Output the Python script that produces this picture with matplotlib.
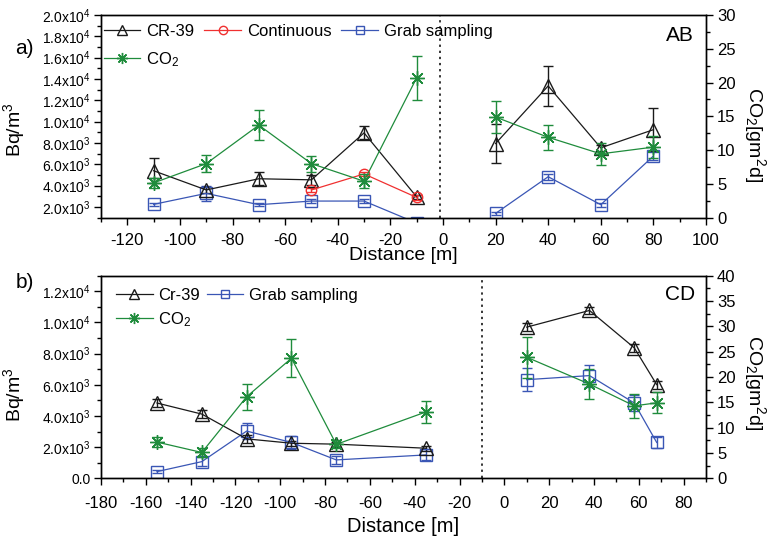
import matplotlib
matplotlib.use('Agg')
import matplotlib.pyplot as plt
import numpy as np
from matplotlib.ticker import MultipleLocator, FuncFormatter, FixedLocator
from matplotlib.lines import Line2D
from matplotlib.legend_handler import HandlerTuple

plt.rcParams['font.family'] = ['Liberation Sans', 'DejaVu Sans']
plt.rcParams['mathtext.fontset'] = 'custom'
plt.rcParams['mathtext.rm'] = 'Liberation Sans'
plt.rcParams['mathtext.it'] = 'Liberation Sans:italic'
plt.rcParams['mathtext.default'] = 'regular'
plt.rcParams['axes.unicode_minus'] = False

# ---------------- Panel a (AB) ----------------
a_x = [-110, -90, -70, -50, -30, -10, 20, 40, 60, 80]
a_cr39 = [5400, 3600, 4650, 4550, 8950, 2950, 7950, 13350, 7550, 9250]
a_cr39_err = [1150, 250, 600, 450, 600, 200, 1800, 1850, 300, 2000]
a_cont_x = [-50, -30, -10]
a_cont = [3600, 5100, 2900]
a_cont_err = [200, 200, 250]
a_grab = [2250, 3280, 2220, 2560, 2560, 500, 1400, 4840, 2220, 6780]
a_grab_err = [150, 700, 150, 150, 150, 0, 150, 300, 200, 350]
a_co2 = [5.15, 8.0, 13.7, 8.0, 5.4, 20.7, 14.9, 11.9, 9.45, 10.45]
a_co2_err = [0.7, 1.25, 2.2, 1.2, 1.0, 3.3, 2.4, 1.85, 1.6, 1.6]
a_gap = -1

# ---------------- Panel b (CD) ----------------
b_x = [-155, -135, -115, -95, -75, -35, 10, 38, 58, 68]
b_cr39 = [4830, 4120, 2530, 2250, 2190, 1930, 9700, 10770, 8370, 6010]
b_cr39_err = [250, 250, 250, 150, 150, 150, 250, 250, 250, 250]
b_grab = [430, 1070, 3030, 2300, 1180, 1500, 6330, 6590, 4830, 2300]
b_grab_err = [100, 300, 500, 400, 250, 350, 720, 700, 500, 350]
b_co2 = [7.15, 5.1, 16.1, 23.7, 6.7, 13.1, 23.9, 18.6, 14.3, 14.9]
b_co2_err = [1.0, 0.8, 2.6, 3.75, 0.8, 2.15, 4.0, 2.95, 2.3, 2.1]
b_gap = -10

BLACK = '#1a1a1a'
RED = '#f03030'
BLUE = '#3a56b5'
GREEN = '#1f8c3c'
AST = (8, 2, 0)

W, H = 767, 545
fig = plt.figure(figsize=(W / 100, H / 100), dpi=100)


def sci_fmt(v, pos):
    if abs(v) < 1e-9:
        return '0.0'
    e = int(np.floor(np.log10(v) + 1e-9))
    m = v / 10 ** e
    return '%.1fx10$^{%d}$' % (m, e)


def series(ax, x, y, e, gap, color, marker, ms, mfc='none', dot=False):
    x = np.asarray(x, float); y = np.asarray(y, float); e = np.asarray(e, float)
    for m in (x < gap, x > gap):
        if not m.any():
            continue
        ax.errorbar(x[m], y[m], yerr=e[m], color=color, marker=marker, ms=ms,
                    mfc=mfc, mec=color, mew=1.0, lw=0.9, elinewidth=1.0,
                    capsize=3.5, capthick=1.0)
        if dot:
            ax.plot(x[m], y[m], ls='none', marker='o', ms=3.0, color=color)


def style_axes(ax, ax2, xlim, ylim, ymaj, ymin_loc, y2lim, xpad):
    ax.set_xlim(*xlim)
    ax.set_ylim(*ylim)
    ax2.set_ylim(*y2lim)
    ax.xaxis.set_major_locator(MultipleLocator(20))
    ax.xaxis.set_minor_locator(MultipleLocator(10))
    ax.yaxis.set_major_locator(FixedLocator(ymaj))
    ax.yaxis.set_minor_locator(MultipleLocator(ymin_loc))
    ax.yaxis.set_major_formatter(FuncFormatter(sci_fmt))
    ax2.yaxis.set_major_locator(MultipleLocator(5))
    ax2.yaxis.set_minor_locator(MultipleLocator(2.5))
    for a in (ax, ax2):
        a.tick_params(which='major', direction='out', length=5, width=1)
        a.tick_params(which='minor', direction='out', length=3, width=1)
        for s in a.spines.values():
            s.set_linewidth(1.0)
    ax.tick_params(axis='y', labelsize=10, pad=2.5)
    ax.tick_params(axis='x', labelsize=12, pad=xpad)
    ax2.tick_params(axis='y', labelsize=12, pad=3)


def fx(px):
    return px / W


def fy(py):
    return 1 - py / H


# ===== Panel a =====
ax = fig.add_axes([fx(101), fy(217.7), 605 / W, 202.7 / H])
ax2 = ax.twinx()
style_axes(ax, ax2, (-130, 100), (1000, 20000),
           list(range(2000, 20001, 2000)), 1000, (0, 30), 6.0)
ax.axvline(a_gap, color='black', ls=(0, (1.5, 2.5)), lw=1.1)
series(ax, a_x, a_grab, a_grab_err, a_gap, BLUE, 's', 8.5)
series(ax, a_x, a_cr39, a_cr39_err, a_gap, BLACK, '^', 9.5)
series(ax, a_cont_x, a_cont, a_cont_err, a_gap, RED, 'o', 7.5)
series(ax2, a_x, a_co2, a_co2_err, a_gap, GREEN, AST, 10.5, dot=True)

ax.set_xlabel('Distance [m]', fontsize=14)
ax.set_ylabel('Bq/m$^3$', fontsize=14)
ax2.set_ylabel('CO$_2$[gm$^2$d]', fontsize=14, rotation=270, va='center')
fig.text(fx(15), fy(48), 'a)', fontsize=15, va='center')
fig.text(fx(694), fy(35), 'AB', fontsize=15, ha='right', va='center')

h_cr = Line2D([], [], color=BLACK, marker='^', ms=7, mfc='none', lw=0.9)
h_co = Line2D([], [], color=RED, marker='o', ms=6, mfc='none', lw=0.9)
h_gr = Line2D([], [], color=BLUE, marker='s', ms=6, mfc='none', lw=0.9)
h_c2 = (Line2D([], [], color=GREEN, marker=AST, ms=8, lw=0.9),
        Line2D([], [], color=GREEN, marker='o', ms=2.5, ls='none'))
leg = ax2.legend([h_cr, h_c2, h_co, h_gr],
                 ['CR-39', 'CO$_2$', 'Continuous', 'Grab sampling'],
                 handler_map={tuple: HandlerTuple(ndivide=1, pad=0)},
                 ncol=3, loc='upper left', bbox_to_anchor=(-0.012, 1.005),
                 frameon=False, fontsize=12, handlelength=2.2,
                 handletextpad=0.35, columnspacing=0.6, labelspacing=0.65,
                 borderaxespad=0.2)

# ===== Panel b =====
bx = fig.add_axes([fx(101), fy(478.3), 605 / W, 202.6 / H])
bx2 = bx.twinx()
style_axes(bx, bx2, (-180, 90), (0, 13000),
           list(range(0, 12001, 2000)), 1000, (0, 40), 7.5)
bx.axvline(b_gap, color='black', ls=(0, (1.5, 2.5)), lw=1.1)
series(bx, b_x, b_grab, b_grab_err, b_gap, BLUE, 's', 8.5)
series(bx, b_x, b_cr39, b_cr39_err, b_gap, BLACK, '^', 9.5)
series(bx2, b_x, b_co2, b_co2_err, b_gap, GREEN, AST, 10.5, dot=True)

bx.set_xlabel('Distance [m]', fontsize=14.5)
bx.set_ylabel('Bq/m$^3$', fontsize=14)
bx2.set_ylabel('CO$_2$[gm$^2$d]', fontsize=14, rotation=270, va='center')
fig.text(fx(16), fy(283), 'b)', fontsize=15, va='center')
fig.text(fx(695), fy(295), 'CD', fontsize=15, ha='right', va='center')

legb = bx2.legend([h_cr, h_c2, h_gr], ['Cr-39', 'CO$_2$', 'Grab sampling'],
                  handler_map={tuple: HandlerTuple(ndivide=1, pad=0)},
                  ncol=2, loc='upper left', bbox_to_anchor=(0.008, 0.99),
                  frameon=False, fontsize=12, handlelength=2.2,
                  handletextpad=0.35, columnspacing=0.4, labelspacing=0.45,
                  borderaxespad=0.2)

# explicit label positions (pixel positions -> axes coords)
for a, a2, ycen_l, ycen_r, xl_y, top, bot in (
        (ax, ax2, 130, 135, 255, 15, 217.7),
        (bx, bx2, 395, 383, 527, 275.7, 478.3)):
    hgt = bot - top
    a.yaxis.set_label_coords((27 - 101) / 605, (bot - ycen_l) / hgt)
    a2.yaxis.set_label_coords((755 - 101) / 605, (bot - ycen_r) / hgt)
    a.xaxis.set_label_coords(0.5, (bot - xl_y) / hgt)
    a.xaxis.label.set_va('center')

fig.savefig('out.png', dpi=100)
